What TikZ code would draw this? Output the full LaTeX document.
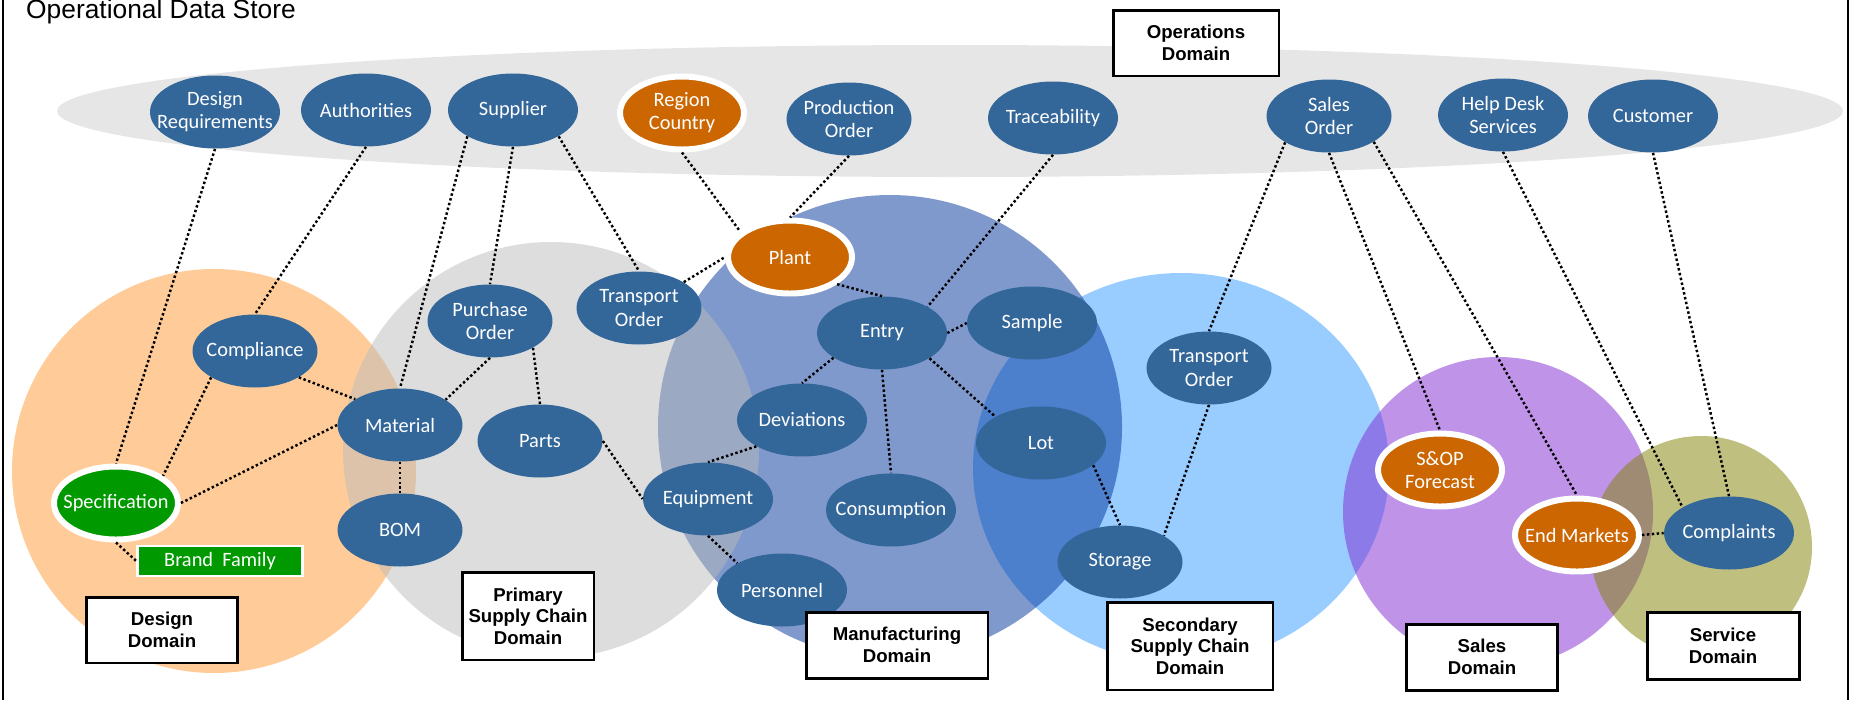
\documentclass[tikz,border=0pt]{standalone}
\usepackage{fontspec}
\setmainfont{Liberation Sans}
\newfontfamily\blobfont{Carlito}
\usetikzlibrary{shapes.geometric}
\definecolor{odsblue}{RGB}{51,102,153}
\definecolor{odsorange}{RGB}{204,102,0}
\definecolor{odsgreen}{RGB}{0,153,0}
\definecolor{opsgray}{RGB}{230,230,230}
\definecolor{designfill}{RGB}{255,153,51}
\definecolor{primaryfill}{RGB}{187,187,187}
\definecolor{manuffill}{RGB}{0,51,153}
\definecolor{secondfill}{RGB}{51,153,255}
\definecolor{salesfill}{RGB}{127,41,209}
\definecolor{servicefill}{RGB}{128,128,0}
\tikzset{
blob/.style={ellipse, fill=odsblue, text=white, minimum width=2.6cm, minimum height=1.46cm,
  inner xsep=-10pt, inner ysep=0pt, align=center, font=\blobfont\fontsize{11.6}{13.2}\selectfont}, % plain data entity
hot/.style={blob, fill=odsorange, draw=white, line width=3.4pt, minimum width=2.48cm}, % shared entity, white ring
key/.style={hot, fill=odsgreen}, % the design key entity
tag/.style={rectangle, fill=odsgreen, draw=white, line width=1.5pt, text=white, minimum width=3.3cm,
  minimum height=0.6cm, inner sep=0pt, font=\blobfont\fontsize{11.6}{13}\selectfont},
domainbox/.style={rectangle, draw=black, fill=white, line width=1.7pt, align=center, inner sep=0pt,
  font=\bfseries\fontsize{10.6}{12.3}\selectfont}, % name box of a domain
link/.style={line width=1.4pt, dash pattern=on 1.4pt off 1.4pt}, % dotted relation
zone/.style={fill opacity=0.5}, % see-through domain circle
}
\begin{document}
\begin{tikzpicture}[x=0.02cm, y=-0.02cm]
    \useasboundingbox (0,0) rectangle (1851,700);

    % domains
    \fill[opsgray] (950,111) ellipse [x radius=893, y radius=66];
    \fill[designfill, zone] (214,471) circle [radius=202];
    \fill[secondfill, zone] (1181,468) ellipse [x radius=208, y radius=195];
    \fill[manuffill, zone] (890,427) circle [radius=232];
    \fill[primaryfill, zone] (551,450) circle [radius=208];
    \fill[salesfill, zone] (1498,512) circle [radius=155];
    \fill[servicefill, zone] (1701,547) circle [radius=111];

    \draw[line width=1.2pt] (3,0) -- (3,700) (1848,0) -- (1848,700);
    \node[anchor=base west, font=\fontsize{15}{18}\selectfont] (title) at (20,18) {Operational Data Store};

    % operations domain
    \node[blob] (dreq) at (215,112) {Design\\Requirements};
    \node[blob] (auth) at (366,110) {Authorities};
    \node[blob] (supp) at (513,110) {Supplier};
    \node[hot] (region) at (682,113) {Region\\Country};
    \node[blob, minimum width=2.5cm] (prodord) at (849,119) {Production\\Order};
    \node[blob] (trace) at (1053,118) {Traceability};
    \node[blob, minimum width=2.5cm] (sord) at (1329,116) {Sales\\Order};
    \node[blob] (help) at (1503,115) {Help Desk\\Services};
    \node[blob] (cust) at (1653,116) {Customer};

    % design and primary supply chain
    \node[blob, minimum width=2.5cm] (compliance) at (255,351) {Compliance};
    \node[key] (spec) at (116,503) {Specification};
    \node[tag] (brand) at (220,561) {Brand\ \ Family};
    \node[blob, minimum width=2.5cm] (purch) at (490,321) {Purchase\\Order};
    \node[blob, minimum width=2.5cm] (mat) at (400,425) {Material};
    \node[blob, minimum width=2.5cm] (parts) at (540,441) {Parts};
    \node[blob, minimum width=2.5cm] (bom) at (400,530) {BOM};

    % manufacturing
    \node[blob, minimum width=2.5cm] (torderA) at (639,308) {Transport\\Order};
    \node[hot] (plant) at (790,257) {Plant};
    \node[blob] (entry) at (882,333) {Entry};
    \node[blob] (sample) at (1032,323) {Sample};
    \node[blob] (dev) at (802,420) {Deviations};
    \node[blob] (equip) at (708,499) {Equipment};
    \node[blob] (cons) at (891,510) {Consumption};
    \node[blob] (pers) at (782,590) {Personnel};

    % secondary supply chain, sales, service
    \node[blob] (lot) at (1041,443) {Lot};
    \node[blob, minimum width=2.5cm] (torderB) at (1209,368) {Transport\\Order};
    \node[blob, minimum width=2.5cm] (stor) at (1120,562) {Storage};
    \node[hot] (sop) at (1440,470) {S\&OP\\Forecast};
    \node[hot] (endm) at (1577,535) {End Markets};
    \node[blob] (complaints) at (1729,533) {Complaints};

    \path
    (dreq.south) edge[link] (spec.north)
    (auth.south) edge[link] (compliance.north)
    (supp.210) edge[link] (mat.north)
    (supp.south) edge[link] (purch.north)
    (supp.330) edge[link] (torderA.north)
    (region.south) edge[link] (plant.153)
    (prodord.south) edge[link] (plant.north)
    (torderA.30) edge[link] (plant.west)
    (plant.330) edge[link] (entry.north)
    (trace.south) edge[link] (entry.30)
    (entry.east) edge[link] (sample.west)
    (entry.207) edge[link] (dev.north)
    (entry.south) edge[link] (cons.north)
    (entry.332) edge[link] (lot.150)
    (dev.210) edge[link] (equip.north)
    (parts.east) edge[link] (equip.west)
    (equip.south) edge[link] (pers.149)
    (lot.337) edge[link] (stor.north)
    (torderB.south) edge[link] (stor.31)
    (sord.211) edge[link] (torderB.north)
    (sord.south) edge[link] (sop.north)
    (sord.330) edge[link] (endm.north)
    (help.south) edge[link] (complaints.151)
    (cust.south) edge[link] (complaints.north)
    (endm.east) edge[link] (complaints.west)
    (compliance.329) edge[link] (mat.150)
    (compliance.211) edge[link] (spec.30)
    (mat.west) edge[link] (spec.east)
    (purch.south) edge[link] (mat.29)
    (purch.328) edge[link] (parts.north)
    (mat.south) edge[link] (bom.north)
    (spec.south) edge[link] (brand.west);

    % domain names
    \node[domainbox, minimum width=3.32cm, minimum height=1.32cm] (opsname) at (1196,43) {Operations\\Domain};
    \node[domainbox, minimum width=3.04cm, minimum height=1.32cm] (designname) at (162,630) {Design\\Domain};
    \node[domainbox, minimum width=2.64cm, minimum height=1.76cm] (primname) at (528,616) {Primary\\Supply Chain\\Domain};
    \node[domainbox, minimum width=3.64cm, minimum height=1.32cm] (manufname) at (897,645) {Manufacturing\\Domain};
    \node[domainbox, minimum width=3.32cm, minimum height=1.76cm] (secname) at (1190,646) {Secondary\\Supply Chain\\Domain};
    \node[domainbox, minimum width=3.02cm, minimum height=1.32cm] (salesname) at (1482,657) {Sales\\Domain};
    \node[domainbox, minimum width=3.04cm, minimum height=1.34cm] (servname) at (1723,646) {Service\\Domain};
\end{tikzpicture}
\end{document}
